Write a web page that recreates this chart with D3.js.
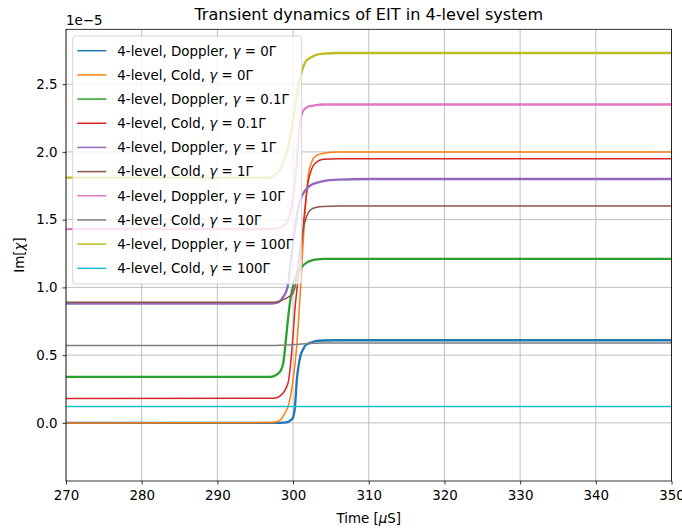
<!DOCTYPE html>
<html>
  <head>
    <script src="https://cdnjs.cloudflare.com/ajax/libs/d3/7.8.5/d3.min.js"></script>
    <style>
      body { margin: 0; background: #fff; }
      text { font-family: "DejaVu Sans", sans-serif; fill: #000; }
    </style>
  </head>
  <body>
    <div id="vis"></div>
    <script type="text/javascript">

        // sample times (microseconds) shared by every trace
        const times = [270, 297, 297.8, 298.3, 298.7, 299.1, 299.4, 299.7, 300, 300.25, 300.5,
                       300.75, 301, 301.3, 301.6, 302, 302.5, 303, 304, 306, 310, 350];

        // Im[chi] in units of 1e-5
        const dopplerG0   = [0, 0, 0, 0, 0.002, 0.004, 0.008, 0.02, 0.04, 0.12, 0.32,
                             0.43, 0.5, 0.54, 0.57, 0.585, 0.595, 0.603, 0.608, 0.61, 0.61, 0.61];
        const coldG0      = [0, 0.002, 0.008, 0.02, 0.05, 0.09, 0.13, 0.21, 0.32, 0.43, 0.58,
                             0.78, 1.0, 1.3, 1.57, 1.82, 1.93, 1.97, 1.99, 2.0, 2.0, 2.0];
        const dopplerG01  = [0.34, 0.34, 0.355, 0.38, 0.44, 0.64, 0.8, 0.93, 1.01, 1.06, 1.09,
                             1.12, 1.14, 1.16, 1.175, 1.19, 1.2, 1.205, 1.21, 1.21, 1.21, 1.21];
        const coldG01     = [0.18, 0.181, 0.185, 0.2, 0.22, 0.26, 0.31, 0.45, 0.65, 0.84, 0.98,
                             1.1, 1.22, 1.42, 1.6, 1.78, 1.88, 1.92, 1.945, 1.95, 1.95, 1.95];
        const dopplerG1   = [0.88, 0.88, 0.885, 0.9, 0.93, 0.97, 1.04, 1.2, 1.33, 1.43, 1.53,
                             1.6, 1.65, 1.69, 1.715, 1.74, 1.76, 1.77, 1.785, 1.795, 1.8, 1.8];
        const coldG1      = [0.89, 0.89, 0.892, 0.9, 0.91, 0.92, 0.93, 0.94, 0.96, 1.0, 1.1,
                             1.22, 1.32, 1.42, 1.49, 1.55, 1.58, 1.59, 1.598, 1.6, 1.6, 1.6];
        const dopplerG10  = [1.43, 1.43, 1.435, 1.44, 1.455, 1.47, 1.5, 1.56, 1.66, 1.78, 1.93,
                             2.1, 2.24, 2.3, 2.32, 2.335, 2.34, 2.345, 2.35, 2.35, 2.35, 2.35];
        const coldG10     = [0.572, 0.572, 0.572, 0.573, 0.573, 0.574, 0.575, 0.576, 0.577, 0.578, 0.579,
                             0.58, 0.582, 0.583, 0.584, 0.586, 0.587, 0.588, 0.589, 0.59, 0.59, 0.59];
        const dopplerG100 = [1.81, 1.81, 1.84, 1.87, 1.92, 1.99, 2.05, 2.14, 2.24, 2.33, 2.42,
                             2.5, 2.56, 2.62, 2.66, 2.685, 2.7, 2.715, 2.725, 2.73, 2.73, 2.73];
        const coldG100    = [0.12, 0.12, 0.12, 0.12, 0.12, 0.12, 0.12, 0.12, 0.12, 0.12, 0.12,
                             0.12, 0.12, 0.12, 0.12, 0.12, 0.12, 0.12, 0.12, 0.12, 0.12, 0.12];

        const series  = [dopplerG0, coldG0, dopplerG01, coldG01, dopplerG1, coldG1,
                         dopplerG10, coldG10, dopplerG100, coldG100];
        const kinds   = ["Doppler", "Cold", "Doppler", "Cold", "Doppler", "Cold",
                         "Doppler", "Cold", "Doppler", "Cold"];
        const gammas  = ["0", "0", "0.1", "0.1", "1", "1", "10", "10", "100", "100"];
        const colors  = ["#1f77b4", "#ff7f0e", "#2ca02c", "#d62728", "#9467bd",
                         "#8c564b", "#e377c2", "#7f7f7f", "#bcbd22", "#17becf"];

        const xTicks = [270, 280, 290, 300, 310, 320, 330, 340, 350];
        const yTicks = [0.0, 0.5, 1.0, 1.5, 2.0, 2.5];

        const W = 682, H = 531;
        const pLeft = 66, pRight = 671.5, pTop = 29.3, pBottom = 481;
        const fs = 13.4;

        const svg = d3.select("#vis")
            .append("svg")
            .attr("width", W)
            .attr("height", H);

        const x = d3.scaleLinear().domain([270, 350]).range([pLeft, pRight]);
        const y = d3.scaleLinear().domain([-0.429, 2.905]).range([pBottom, pTop]);

        svg.append("clipPath").attr("id", "clip")
            .append("rect")
            .attr("x", pLeft).attr("y", pTop)
            .attr("width", pRight - pLeft).attr("height", pBottom - pTop);

        // grid
        const grid = svg.append("g");
        grid.selectAll("line.gx").data(xTicks).enter().append("line")
            .attr("x1", d => x(d)).attr("x2", d => x(d))
            .attr("y1", pTop).attr("y2", pBottom)
            .attr("stroke", "#b0b0b0").attr("stroke-width", 0.8);
        grid.selectAll("line.gy").data(yTicks).enter().append("line")
            .attr("x1", pLeft).attr("x2", pRight)
            .attr("y1", d => y(d)).attr("y2", d => y(d))
            .attr("stroke", "#b0b0b0").attr("stroke-width", 0.8);

        // traces
        const line = d3.line()
            .x((d, i) => x(times[i]))
            .y(d => y(d))
            .curve(d3.curveMonotoneX);

        svg.append("g").attr("clip-path", "url(#clip)")
            .selectAll("path")
            .data(series)
            .enter()
            .append("path")
            .attr("d", d => line(d))
            .attr("fill", "none")
            .attr("stroke", (d, i) => colors[i])
            .attr("stroke-width", (d, i) => kinds[i] === "Doppler" ? 2.3 : 1.5)
            .attr("stroke-linejoin", "round");

        // axes
        const xAxis = svg.append("g")
            .attr("transform", `translate(0,${pBottom})`)
            .call(d3.axisBottom(x).tickValues(xTicks).tickSize(3.5).tickPadding(5.5).tickFormat(d3.format("d")));
        const yAxis = svg.append("g")
            .attr("transform", `translate(${pLeft},0)`)
            .call(d3.axisLeft(y).tickValues(yTicks).tickSize(3.5).tickPadding(5).tickFormat(d3.format(".1f")));

        [xAxis, yAxis].forEach(a => {
            a.select(".domain").remove();
            a.selectAll("line").attr("stroke", "#000").attr("stroke-width", 0.8);
            a.selectAll("text")
                .style("font-family", "DejaVu Sans, sans-serif")
                .style("font-size", fs + "px")
                .attr("fill", "#000");
        });

        svg.append("rect")
            .attr("x", pLeft).attr("y", pTop)
            .attr("width", pRight - pLeft).attr("height", pBottom - pTop)
            .attr("fill", "none").attr("stroke", "#000").attr("stroke-width", 0.8);

        // labels
        svg.append("text")
            .attr("x", (pLeft + pRight) / 2).attr("y", 20.3)
            .attr("text-anchor", "middle")
            .style("font-size", "16.1px")
            .text("Transient dynamics of EIT in 4-level system");

        svg.append("text")
            .attr("x", pLeft).attr("y", 25)
            .style("font-size", fs + "px")
            .text("1e\u22125");

        const xl = svg.append("text")
            .attr("x", (pLeft + pRight) / 2).attr("y", 523)
            .attr("text-anchor", "middle")
            .style("font-size", fs + "px");
        xl.append("tspan").text("Time [");
        xl.append("tspan").style("font-style", "italic").text("\u03bc");
        xl.append("tspan").text("S]");

        const yl = svg.append("text")
            .attr("transform", "translate(24,255) rotate(-90)")
            .attr("text-anchor", "middle")
            .style("font-size", fs + "px");
        yl.append("tspan").text("Im[");
        yl.append("tspan").style("font-style", "italic").text("\u03c7");
        yl.append("tspan").text("]");

        // legend
        const lg = svg.append("g").attr("transform", "translate(72.7,36)");
        lg.append("rect")
            .attr("width", 229).attr("height", 248)
            .attr("rx", 3).attr("ry", 3)
            .attr("fill", "#fff").attr("fill-opacity", 0.8)
            .attr("stroke", "#cccccc").attr("stroke-opacity", 0.8).attr("stroke-width", 1);

        const rows = lg.selectAll("g.row")
            .data(series)
            .enter()
            .append("g")
            .attr("transform", (d, i) => `translate(0,${14.7 + i * 24.18})`);
        rows.append("line")
            .attr("x1", 4.6).attr("x2", 33.6)
            .attr("stroke", (d, i) => colors[i]).attr("stroke-width", 1.5);
        const lt = rows.append("text")
            .attr("x", 44.6).attr("y", 4.8)
            .style("font-size", fs + "px");
        lt.append("tspan").text((d, i) => `4-level, ${kinds[i]}, `);
        lt.append("tspan").style("font-style", "italic").text("\u03b3");
        lt.append("tspan").text((d, i) => ` = ${gammas[i]}\u0393`);

    </script>
  </body>
</html>
